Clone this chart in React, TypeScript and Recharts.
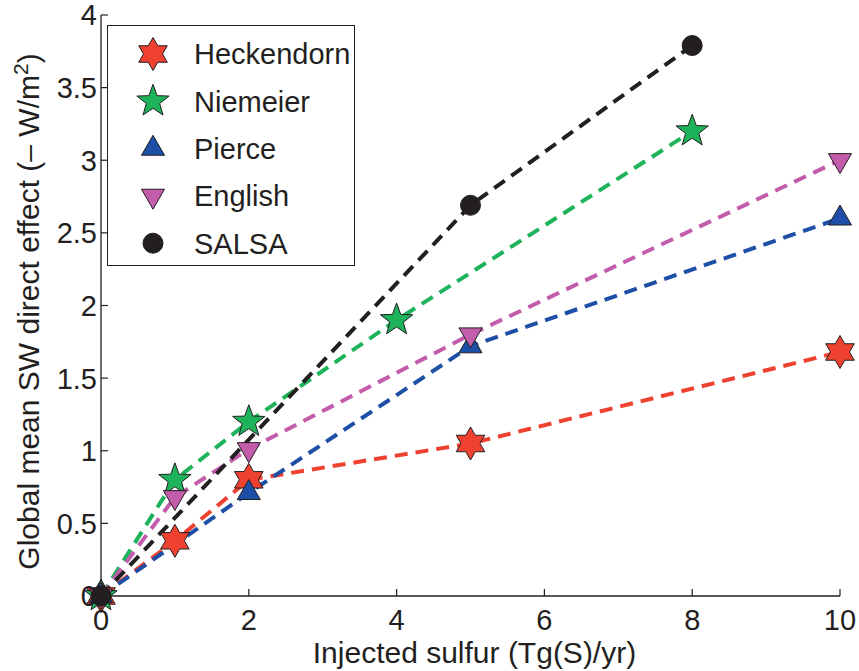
import React from 'react';
import { LineChart, Line, XAxis, YAxis, Legend } from 'recharts';

const seriesNames = ['Heckendorn', 'Niemeier', 'Pierce', 'English', 'SALSA'];
const seriesColors = ['#EE412F', '#1EB35A', '#1C4FA5', '#C25CAB', '#231F20'];
const seriesMarkers = ['hexagram', 'pentagram', 'triangleUp', 'triangleDown', 'circle'];

const heckendornX = [0, 1, 2, 5, 10];
const heckendornY = [0, 0.38, 0.8, 1.05, 1.68];
const niemeierX = [0, 1, 2, 4, 8];
const niemeierY = [0, 0.8, 1.2, 1.9, 3.2];
const pierceX = [0, 2, 5, 10];
const pierceY = [0, 0.71, 1.72, 2.6];
const englishX = [0, 1, 2, 5, 10];
const englishY = [0, 0.68, 1.01, 1.8, 3.0];
const salsaX = [0, 5, 8];
const salsaY = [0, 2.69, 3.79];

const xTicks = [0, 2, 4, 6, 8, 10];
const xTickLabels = ['0', '2', '4', '6', '8', '10'];
const yTicks = [0, 0.5, 1, 1.5, 2, 2.5, 3, 3.5, 4];
const yTickLabels = ['0', '0.5', '1', '1.5', '2', '2.5', '3', '3.5', '4'];

const xLabel = 'Injected sulfur (Tg(S)/yr)';
const yLabelMain = 'Global mean SW direct effect (\u2013 W/m';
const yLabelSup = '2';
const yLabelEnd = ')';

const toPoints = (xs: number[], ys: number[]) => xs.map((x, i) => ({ x, y: ys[i] }));
const seriesData = [
  toPoints(heckendornX, heckendornY),
  toPoints(niemeierX, niemeierY),
  toPoints(pierceX, pierceY),
  toPoints(englishX, englishY),
  toPoints(salsaX, salsaY),
];

const FONT = '"Liberation Sans", Arial, Helvetica, sans-serif';
const INK = '#231F20';
const FS = 29;
const LFS = 30;

function starPoints(cx: number, cy: number, n: number, R: number, r: number) {
  const pts: string[] = [];
  for (let i = 0; i < 2 * n; i++) {
    const a = -Math.PI / 2 + (i * Math.PI) / n;
    const rad = i % 2 === 0 ? R : r;
    pts.push(`${(cx + rad * Math.cos(a)).toFixed(2)},${(cy + rad * Math.sin(a)).toFixed(2)}`);
  }
  return pts.join(' ');
}

function Marker({ kind, cx, cy, color }: { kind: string; cx: number; cy: number; color: string }) {
  if (cx == null || cy == null) return null;
  const common = { fill: color, stroke: INK, strokeWidth: 1, strokeLinejoin: 'miter' as const };
  if (kind === 'hexagram') {
    return <polygon points={starPoints(cx, cy, 6, 16.5, 9.5)} {...common} />;
  }
  if (kind === 'pentagram') {
    return <polygon points={starPoints(cx, cy, 5, 17, 7)} {...common} />;
  }
  if (kind === 'triangleUp') {
    const R = 13.3;
    const pts = `${cx},${cy - R} ${cx + R * 0.866},${cy + R * 0.5} ${cx - R * 0.866},${cy + R * 0.5}`;
    return <polygon points={pts} {...common} />;
  }
  if (kind === 'triangleDown') {
    const R = 13.3;
    const pts = `${cx},${cy + R} ${cx + R * 0.866},${cy - R * 0.5} ${cx - R * 0.866},${cy - R * 0.5}`;
    return <polygon points={pts} {...common} />;
  }
  return <circle cx={cx} cy={cy} r={10} {...common} />;
}

const BottomTick = (props: any) => {
  const { x, y, index } = props;
  return (
    <g>
      <line x1={x} y1={y} x2={x} y2={y - 7} stroke={INK} strokeWidth={1.2} />
      <text x={x} y={y + 34} textAnchor="middle" fontFamily={FONT} fontSize={FS} fill={INK}>
        {xTickLabels[index]}
      </text>
    </g>
  );
};

const TopTick = (props: any) => {
  const { x, y } = props;
  return <line x1={x} y1={y} x2={x} y2={y + 7} stroke={INK} strokeWidth={1.2} />;
};

const LeftTick = (props: any) => {
  const { x, y, index } = props;
  return (
    <g>
      <line x1={x} y1={y} x2={x + 7} y2={y} stroke={INK} strokeWidth={1.2} />
      <text x={x - 4} y={y} dy="0.36em" textAnchor="end" fontFamily={FONT} fontSize={FS} fill={INK}>
        {yTickLabels[index]}
      </text>
    </g>
  );
};

const RightTick = (props: any) => {
  const { x, y } = props;
  return <line x1={x} y1={y} x2={x - 7} y2={y} stroke={INK} strokeWidth={1.2} />;
};

const YLabel = (props: any) => {
  const vb = props.viewBox || { x: 0, y: 15, width: 101, height: 581 };
  const cx = 38.5;
  const cy = vb.y + vb.height / 2 + 6;
  return (
    <text
      x={cx}
      y={cy}
      transform={`rotate(-90, ${cx}, ${cy})`}
      textAnchor="middle"
      fontFamily={FONT}
      fontSize={LFS}
      fill={INK}
    >
      {yLabelMain}
      <tspan dy={-11} fontSize={21}>{yLabelSup}</tspan>
      <tspan dy={11}>{yLabelEnd}</tspan>
    </text>
  );
};

const XLabel = (props: any) => {
  const vb = props.viewBox || { x: 101, y: 596, width: 739, height: 75 };
  return (
    <text x={vb.x + vb.width / 2 + 4} y={663} textAnchor="middle" fontFamily={FONT} fontSize={LFS} fill={INK}>
      {xLabel}
    </text>
  );
};

const LegendBox = () => (
  <div
    style={{
      width: 248,
      height: 241,
      border: `1.3px solid ${INK}`,
      background: '#fff',
      boxSizing: 'border-box',
      position: 'relative',
    }}
  >
    <svg width={248} height={241} style={{ position: 'absolute', left: 0, top: 0 }}>
      {seriesNames.map((name, i) => {
        const cy = 28 + i * 47.3;
        return (
          <g key={name}>
            <Marker kind={seriesMarkers[i]} cx={45} cy={cy} color={seriesColors[i]} />
            <text x={86} y={cy} dy="0.36em" fontFamily={FONT} fontSize={FS} fill={INK}>
              {name}
            </text>
          </g>
        );
      })}
    </svg>
  </div>
);

export default function App() {
  return (
    <div style={{ position: 'absolute', left: 0, top: 0, width: 859, height: 671, background: '#fff' }}>
      <LineChart width={859} height={671} margin={{ top: 15, right: 19, bottom: 0, left: 0 }}>
        <XAxis
          xAxisId="b"
          type="number"
          dataKey="x"
          domain={[0, 10]}
          ticks={xTicks}
          allowDuplicatedCategory={false}
          height={75}
          tickSize={0}
          tickMargin={0}
          tickLine={false}
          axisLine={{ stroke: INK, strokeWidth: 1.3 }}
          tick={<BottomTick />}
          interval={0}
          label={<XLabel />}
        />
        <XAxis
          xAxisId="t"
          orientation="top"
          type="number"
          dataKey="x"
          domain={[0, 10]}
          ticks={xTicks}
          height={0}
          tickSize={0}
          tickMargin={0}
          tickLine={false}
          axisLine={{ stroke: INK, strokeWidth: 1.3 }}
          tick={<TopTick />}
          interval={0}
        />
        <YAxis
          yAxisId="l"
          type="number"
          domain={[0, 4]}
          ticks={yTicks}
          width={101}
          tickSize={0}
          tickMargin={0}
          tickLine={false}
          axisLine={{ stroke: INK, strokeWidth: 1.3 }}
          tick={<LeftTick />}
          interval={0}
          label={<YLabel />}
        />
        <YAxis
          yAxisId="r"
          orientation="right"
          type="number"
          domain={[0, 4]}
          ticks={yTicks}
          width={0}
          tickSize={0}
          tickMargin={0}
          tickLine={false}
          axisLine={{ stroke: INK, strokeWidth: 1.3 }}
          tick={<RightTick />}
          interval={0}
        />
        {seriesNames.map((name, i) => (
          <Line
            key={name}
            xAxisId="b"
            yAxisId="l"
            data={seriesData[i]}
            dataKey="y"
            name={name}
            type="linear"
            stroke={seriesColors[i]}
            strokeWidth={4}
            strokeDasharray="13 8"
            isAnimationActive={false}
            activeDot={false}
            dot={(p: any) => (
              <Marker key={`${name}-${p.index}`} kind={seriesMarkers[i]} cx={p.cx} cy={p.cy} color={seriesColors[i]} />
            )}
          />
        ))}
        <Legend
          layout="vertical"
          align="center"
          verticalAlign="middle"
          content={() => <LegendBox />}
          wrapperStyle={{ position: 'absolute', left: 107, top: 25, width: 248, height: 241 }}
        />
      </LineChart>
    </div>
  );
}
